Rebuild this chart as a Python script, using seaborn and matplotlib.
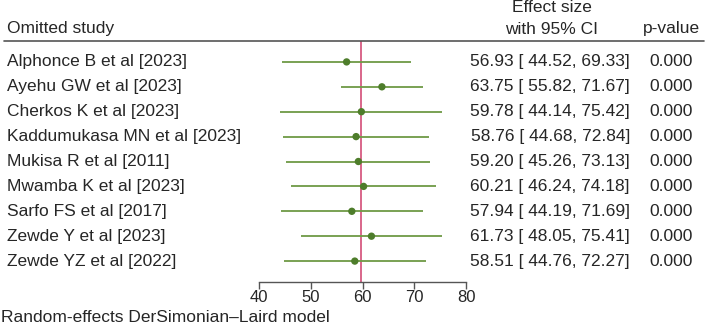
import matplotlib
matplotlib.use('Agg')
import matplotlib.pyplot as plt
import seaborn as sns
import pandas as pd

# leave-one-out estimates
studies = ['Alphonce B et al [2023]', 'Ayehu GW et al [2023]', 'Cherkos K et al [2023]',
           'Kaddumukasa MN et al [2023]', 'Mukisa R et al [2011]', 'Mwamba K et al [2023]',
           'Sarfo FS et al [2017]', 'Zewde Y et al [2023]', 'Zewde YZ et al [2022]']
est = [56.93, 63.75, 59.78, 58.76, 59.20, 60.21, 57.94, 61.73, 58.51]
lower = [44.52, 55.82, 44.14, 44.68, 45.26, 46.24, 44.19, 48.05, 44.76]
upper = [69.33, 71.67, 75.42, 72.84, 73.13, 74.18, 71.69, 75.41, 72.27]
pvals = [0.000] * 9
overall = 59.65
xticks = [40, 50, 60, 70, 80]

df = pd.DataFrame({'study': studies, 'est': est, 'lo': lower, 'hi': upper,
                   'p': pvals, 'row': range(len(studies))})

sns.set_style('white')
plt.rcParams['font.family'] = ['Liberation Sans', 'DejaVu Sans']
fs = 12.5

W, H = 708, 327
fig = plt.figure(figsize=(W / 100, H / 100), dpi=100)

def fx(px):
    return px / W

def fy(py):
    return 1 - py / H

# forest panel: x 40..80 -> px 259..466, from header line (41) to axis (282)
ax = fig.add_axes([fx(259), fy(282), fx(466) - fx(259), fy(41) - fy(282)])
ax.hlines(df['row'], df['lo'], df['hi'], color='#6e9a45', lw=1.3, zorder=2)
sns.scatterplot(data=df, x='est', y='row', ax=ax, color='#4e7d2b', s=28,
                edgecolor='none', zorder=3)
ax.axvline(overall, color='#d9668a', lw=1.4, zorder=1)
ax.set_xlim(40, 80)
ax.set_ylim(8.84, -0.84)
ax.set_xticks(xticks)
ax.set_yticks([])
ax.set_xlabel('')
ax.set_ylabel('')
for s in ['top', 'left', 'right']:
    ax.spines[s].set_visible(False)
ax.spines['bottom'].set_color('#555555')
ax.spines['bottom'].set_linewidth(1.0)
ax.tick_params(axis='x', length=5, width=1.0, color='#555555', labelsize=fs - 0.5,
               pad=1, bottom=True)
ax.patch.set_alpha(0)

# header
fig.text(fx(7), fy(29), 'Omitted study', fontsize=fs, va='center', ha='left')
fig.text(fx(552), fy(8), 'Effect size', fontsize=fs, va='center', ha='center')
fig.text(fx(552), fy(29), 'with 95% CI', fontsize=fs, va='center', ha='center')
fig.text(fx(671), fy(29), 'p-value', fontsize=fs, va='center', ha='center')
fig.add_artist(plt.Line2D([fx(4), fx(704)], [fy(41), fy(41)], color='#555555', lw=1.2))

# rows
for i, r in df.iterrows():
    y = fy(61.5 + 25 * i)
    fig.text(fx(7), y, r['study'], fontsize=fs, va='center', ha='left')
    fig.text(fx(630), y, '{:.2f} [ {:.2f}, {:.2f}]'.format(r['est'], r['lo'], r['hi']),
             fontsize=fs, va='center', ha='right')
    fig.text(fx(671), y, '{:.3f}'.format(r['p']), fontsize=fs, va='center', ha='center')

fig.text(fx(1), fy(318), 'Random-effects DerSimonian\u2013Laird model', fontsize=fs,
         va='center', ha='left')

fig.savefig('out.png', dpi=100)
